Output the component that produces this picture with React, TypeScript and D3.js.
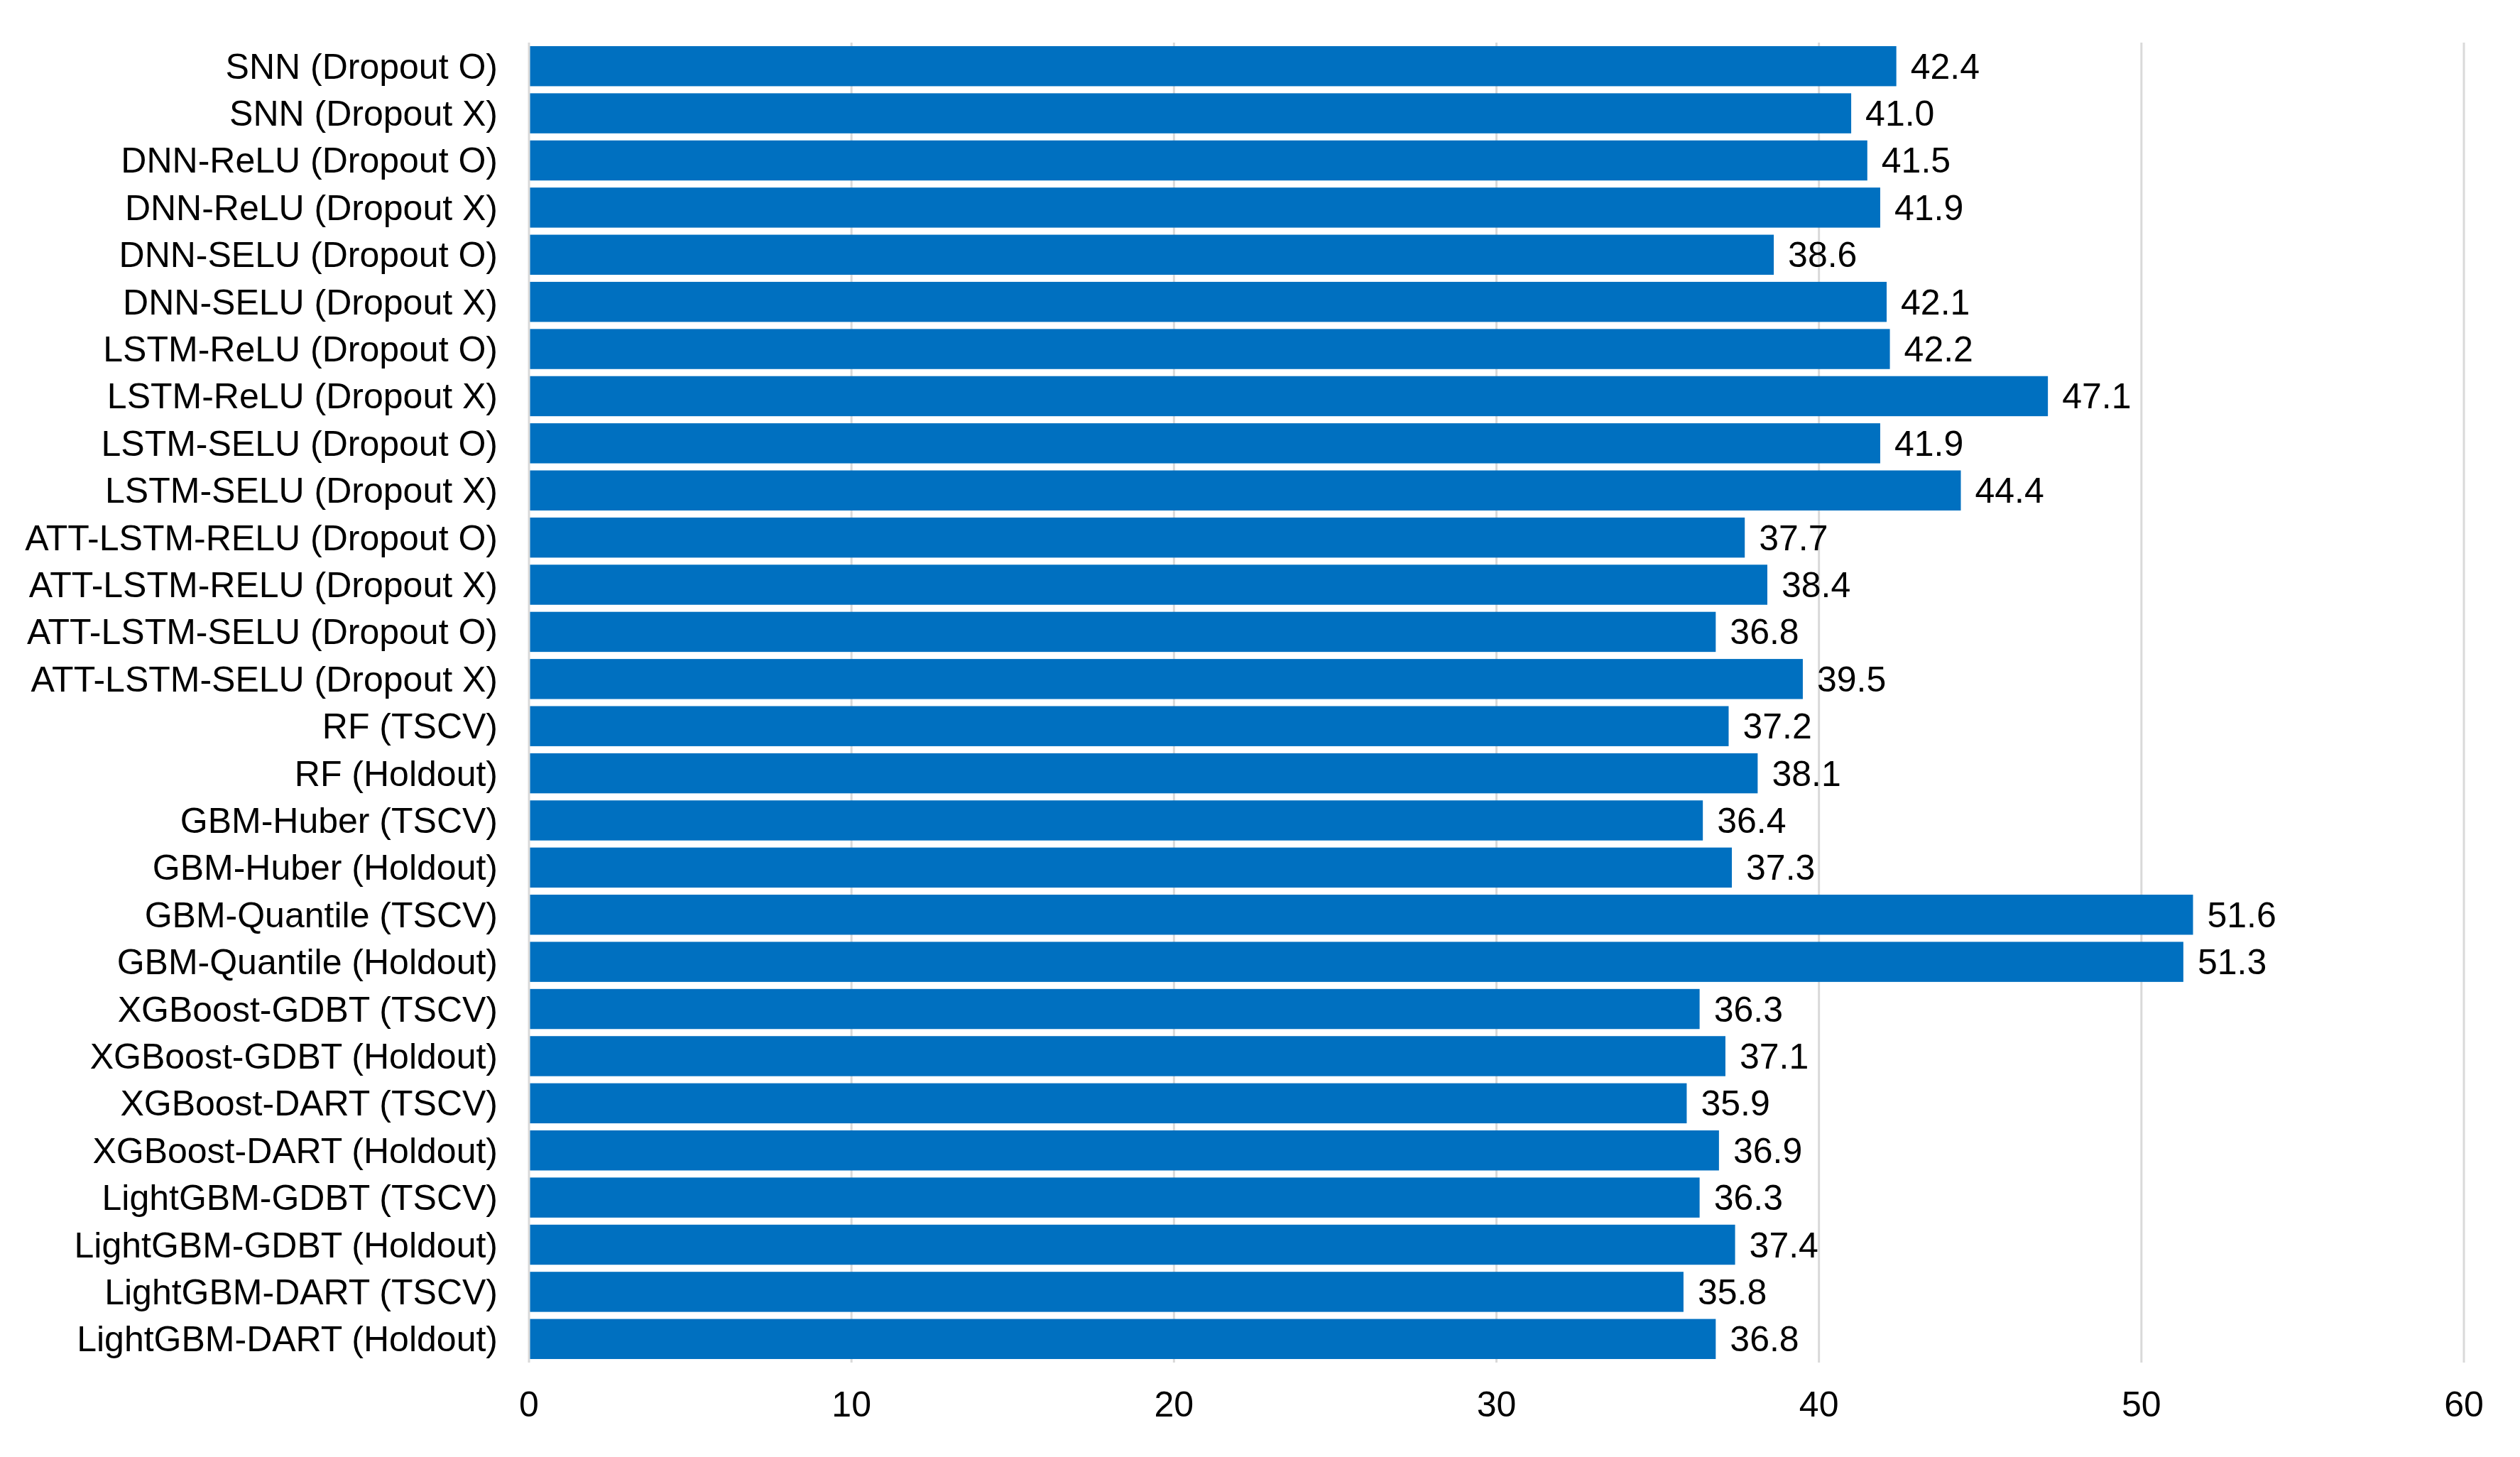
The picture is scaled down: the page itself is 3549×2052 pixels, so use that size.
import React from 'react';
import * as d3 from 'd3';

const categories = [
  'SNN (Dropout O)', 'SNN (Dropout X)',
  'DNN-ReLU (Dropout O)', 'DNN-ReLU (Dropout X)',
  'DNN-SELU (Dropout O)', 'DNN-SELU (Dropout X)',
  'LSTM-ReLU (Dropout O)', 'LSTM-ReLU (Dropout X)',
  'LSTM-SELU (Dropout O)', 'LSTM-SELU (Dropout X)',
  'ATT-LSTM-RELU (Dropout O)', 'ATT-LSTM-RELU (Dropout X)',
  'ATT-LSTM-SELU (Dropout O)', 'ATT-LSTM-SELU (Dropout X)',
  'RF (TSCV)', 'RF (Holdout)',
  'GBM-Huber (TSCV)', 'GBM-Huber (Holdout)',
  'GBM-Quantile (TSCV)', 'GBM-Quantile (Holdout)',
  'XGBoost-GDBT (TSCV)', 'XGBoost-GDBT (Holdout)',
  'XGBoost-DART (TSCV)', 'XGBoost-DART (Holdout)',
  'LightGBM-GDBT (TSCV)', 'LightGBM-GDBT (Holdout)',
  'LightGBM-DART (TSCV)', 'LightGBM-DART (Holdout)',
];

const values = [
  42.4, 41.0, 41.5, 41.9, 38.6, 42.1, 42.2, 47.1, 41.9, 44.4,
  37.7, 38.4, 36.8, 39.5, 37.2, 38.1, 36.4, 37.3, 51.6, 51.3,
  36.3, 37.1, 35.9, 36.9, 36.3, 37.4, 35.8, 36.8,
];

const xTicks = [0, 10, 20, 30, 40, 50, 60];

const width = 3549;
const height = 2052;
const margin = { top: 60, right: 79, bottom: 133, left: 745 };
const font = "'Liberation Sans', Arial, sans-serif";
const fontSize = 50;
const barColor = '#0070C0';
const gridColor = '#D9D9D9';

export default function App() {
  const x = d3.scaleLinear()
    .domain([0, 60])
    .range([margin.left, width - margin.right]);

  const y = d3.scaleBand<string>()
    .domain(categories)
    .range([margin.top, height - margin.bottom])
    .paddingInner(0.15)
    .paddingOuter(0.075);

  const plotBottom = height - margin.bottom;

  return (
    <svg
      width={width}
      height={height}
      style={{ position: 'absolute', left: 0, top: 0, background: '#fff' }}
      fontFamily={font}
    >
      {/* grid */}
      {xTicks.map((t) => (
        <line key={t} x1={x(t)} x2={x(t)} y1={margin.top} y2={plotBottom}
          stroke={gridColor} strokeWidth={3} />
      ))}

      {/* bars */}
      {categories.map((c, i) => (
        <rect key={c} x={x(0) + 1.5} y={y(c)} width={x(values[i]) - x(0) - 1.5}
          height={y.bandwidth()} fill={barColor} />
      ))}

      {/* value labels */}
      {categories.map((c, i) => (
        <text key={c} x={x(values[i]) + 20} y={y(c)! + y.bandwidth() / 2}
          dy="0.35em" fontSize={fontSize} fill="#000">
          {values[i].toFixed(1)}
        </text>
      ))}

      {/* category labels */}
      {categories.map((c) => (
        <text key={c} x={margin.left - 44} y={y(c)! + y.bandwidth() / 2}
          dy="0.35em" fontSize={fontSize} textAnchor="end" fill="#000">
          {c}
        </text>
      ))}

      {/* x tick labels */}
      {xTicks.map((t) => (
        <text key={t} x={x(t)} y={plotBottom + 58} dy="0.35em"
          fontSize={fontSize} textAnchor="middle" fill="#000">
          {t}
        </text>
      ))}
    </svg>
  );
}
